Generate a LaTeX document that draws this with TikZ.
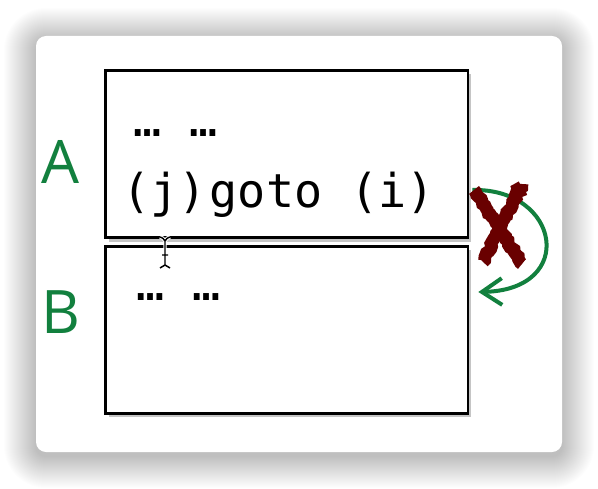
\documentclass[tikz,border=0pt]{standalone}
\usepackage{fontspec}
\newfontfamily\codefont{DejaVu Sans Mono}
\newfontfamily\labelfont{Open Sans}
\usetikzlibrary{arrows.meta,shadows,decorations.pathmorphing}
\definecolor{labelgreen}{RGB}{18,128,62}
\definecolor{crossred}{RGB}{105,0,0}
\tikzset{
  blockbox/.style={draw=black,line width=2pt,fill=white,inner sep=0pt,
    minimum width=271.9pt,minimum height=125.25pt,
    drop shadow={shadow xshift=2.5pt,shadow yshift=-3pt,opacity=.45}},
  codetext/.style={anchor=base west,inner sep=0pt,
    font=\codefont\fontsize{35}{35}\selectfont},
  blocklabel/.style={anchor=base,inner sep=0pt,text=labelgreen,
    font=\labelfont\fontsize{45}{45}\selectfont},
  jumparrow/.style={draw=labelgreen,line width=3pt,
    -{Straight Barb[length=15pt,width=20pt]}},
  crossmark/.style={draw=crossred,line width=9.5pt,decorate,
    decoration={random steps,segment length=2pt,amplitude=.9pt}},
}
\begin{document}
\begin{tikzpicture}[x=0.75pt,y=-0.75pt]
  \useasboundingbox (0,0) rectangle (598,488);
  \fill[white] (0,0) rectangle (598,488);
  % card with soft shadow
  \foreach \i [evaluate=\i as \rc using 7.5+0.75*\i] in {1,...,32}
    \fill[black,opacity=.006,rounded corners=\rc pt]
      (36-\i,36-\i+4) rectangle (562+\i,452+\i+4);
  \fill[white,rounded corners=7.5pt] (36,36) rectangle (562,452);

  % the two blocks
  \node[blockbox] (boxA) at (286.75,154) {};
  \node[blockbox] (boxB) at (286.75,329.75) {};

  \node[blocklabel] (labelA) at (60.5,183) {A};
  \node[blocklabel] (labelB) at (60.5,333) {B};

  \node[codetext] (dotsA) at (133,137) {… …};
  \node[codetext] (codeA) at (122,207) {(j)\kern2.5pt goto (i)};
  \node[codetext] (dotsB) at (136,300) {… …};

  % jump back into A from B
  \draw[jumparrow] ([shift={(3,36)}]boxA.east)
    .. controls +(88,-2) and +(99,-2) .. ([shift={(9,-37.75)}]boxB.east);
  \pgfmathsetseed{7}
  \draw[crossmark] (474,190) -- (522,264);
  \draw[crossmark] (522,184) -- (483,262);

  % text cursor
  \draw[white,line width=2.6pt]
    (160,237) .. controls (163,238) .. (165,241) .. controls (167,238) .. (170,237)
    (165,241) -- (165,265)
    (160,268) .. controls (163,267) .. (165,265) .. controls (167,267) .. (170,268);
  \draw[black,line width=1.1pt]
    (160,237) .. controls (163,238) .. (165,241) .. controls (167,238) .. (170,237)
    (165,241) -- (165,265)
    (162,255) -- (168,255)
    (160,268) .. controls (163,267) .. (165,265) .. controls (167,267) .. (170,268);
\end{tikzpicture}
\end{document}
